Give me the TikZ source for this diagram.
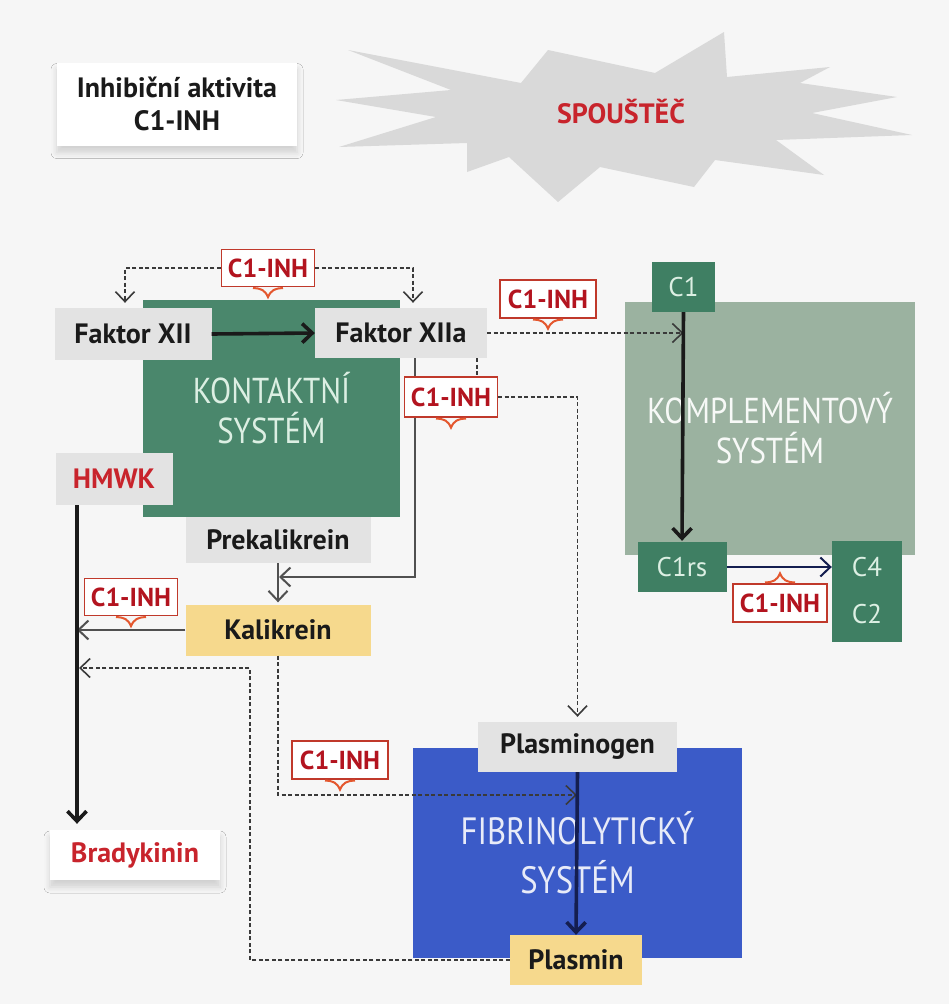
\documentclass[tikz,border=0pt]{standalone}
\usepackage{fontspec}
\setmainfont{PT Sans}
\newfontfamily\titlefont[FakeStretch=0.86]{PT Sans}
\usetikzlibrary{arrows.meta,shadows.blur}

\definecolor{pagebg}{HTML}{F6F6F6}
\definecolor{stargray}{HTML}{D9D9D9}
\definecolor{kontgreen}{HTML}{4A876C}
\definecolor{komplgreen}{HTML}{9BB2A0}
\definecolor{darkgreen}{HTML}{3F7F63}
\definecolor{fibblue}{HTML}{3B5BC8}
\definecolor{lblgray}{HTML}{E3E3E3}
\definecolor{kalyellow}{HTML}{F6D98D}
\definecolor{ink}{HTML}{1A1A1A}
\definecolor{redtext}{HTML}{C8242C}
\definecolor{inhred}{HTML}{C0392B}
\definecolor{inhtext}{HTML}{B3141F}
\definecolor{markred}{HTML}{E4572E}
\definecolor{dashgray}{HTML}{3A3A3A}
\definecolor{thingray}{HTML}{505050}
\definecolor{navy}{HTML}{141E50}
\definecolor{paletext}{HTML}{DCEFE3}

\pgfdeclarelayer{front}
\pgfsetlayers{main,front}

\begin{document}
\begin{tikzpicture}[x=1pt,y=-1pt,
  >={Straight Barb[length=10pt,width=19pt]},
  lbl/.style={fill=lblgray, text=ink, inner sep=0pt, minimum height=50pt,
    font=\fontsize{28}{30}\selectfont\bfseries},
  whitebox/.style={fill=white, inner sep=0pt,
    blur shadow={shadow xshift=0pt, shadow yshift=-7pt, shadow blur radius=6pt, shadow opacity=15}},
  bigbox/.style={inner sep=0pt, align=center},
  cbox/.style={fill=darkgreen, text=paletext, inner sep=0pt,
    font=\fontsize{27}{30}\selectfont},
  inhbox/.style={draw=inhred, line width=1.3pt, fill=white, text=inhtext,
    inner sep=0pt, minimum width=93pt, minimum height=37pt,
    font=\fontsize{26}{28}\selectfont\bfseries},
  dashline/.style={draw=dashgray, line width=1.6pt, dash pattern=on 4pt off 2.5pt},
  thickline/.style={draw=ink, line width=3.6pt},
  thinline/.style={draw=thingray, line width=2pt},
  inhmark/.pic={
    \draw[markred, line width=2pt]
      (-15,1) .. controls (-7,1) and (-3,3) .. (0,10)
      .. controls (3,3) and (7,1) .. (15,1);
  }]

\useasboundingbox (0,0) rectangle (949,1004);
\fill[pagebg] (0,0) rectangle (949,1004);

% trigger burst
\fill[stargray] (348,50) -- (451,90) -- (336,100) -- (436,117) -- (339,147)
  -- (467,143) -- (467,172) -- (509,157) -- (558,202) -- (600,167)
  -- (694,187) -- (715,160) -- (824,175) -- (776,140) -- (912,135)
  -- (812,113) -- (897,97) -- (800,83) -- (830,67) -- (727,77)
  -- (724,32) -- (655,73) -- (548,50) -- (521,83) -- cycle;
\node[text=redtext, font=\fontsize{28}{30}\selectfont\bfseries] (trig) at (621,112) {SPOUŠTĚČ};

% legend box
\node[whitebox, minimum width=240pt, minimum height=83pt, align=center,
  font=\fontsize{28}{33}\selectfont\bfseries, text=ink] (legend) at (177,104)
  {Inhibiční aktivita\\C1-INH};

% system blocks
\node[bigbox, fill=kontgreen, text=paletext, minimum width=257pt, minimum height=217pt,
  font=\titlefont\fontsize{36}{40}\selectfont] (kont) at (271.5,408.5) {KONTAKTNÍ\\SYSTÉM};
\node[bigbox, fill=komplgreen, text=white!92!komplgreen, minimum width=290pt, minimum height=253pt,
  font=\titlefont\fontsize{36}{40}\selectfont] (kompl) at (770,428.5) {KOMPLEMENTOVÝ\\SYSTÉM};
\node[bigbox, fill=fibblue, text=white!88!fibblue, minimum width=329pt, minimum height=210pt,
  font=\titlefont\fontsize{38}{49}\selectfont] (fib) at (577.5,853) {FIBRINOLYTICKÝ\\SYSTÉM};

% factors
\node[lbl, minimum width=157pt, minimum height=52pt] (fxii) at (133,334) {Faktor XII};
\node[lbl, minimum width=172pt] (fxiia) at (401,333) {Faktor XIIa};
\node[lbl, minimum width=117pt, minimum height=52pt, text=redtext] (hmwk) at (114,479) {HMWK};
\node[lbl, minimum width=185pt, minimum height=46pt] (prek) at (278,540) {Prekalikrein};
\node[lbl, fill=kalyellow, minimum width=185pt, minimum height=51pt] (kal) at (278,630) {Kalikrein};
\node[whitebox, minimum width=170pt, minimum height=50pt, text=redtext,
  font=\fontsize{28}{30}\selectfont\bfseries] (brady) at (135,855) {Bradykinin};
\node[lbl, minimum width=199pt] (plg) at (577.5,747) {Plasminogen};
\node[lbl, fill=kalyellow, minimum width=132pt] (plm) at (576,960) {Plasmin};

% complement components
\node[cbox, minimum width=63pt, minimum height=50pt] (c1) at (683.5,287) {C1};
\node[cbox, minimum width=89pt, minimum height=50pt] (c1rs) at (682,567) {C1rs};
\node[cbox, minimum width=70pt, minimum height=101pt, align=center,
  font=\fontsize{27}{47}\selectfont] (c4c2) at (867,591) {C4\\C2};

% inhibitor tags, kept above the connectors
\begin{pgfonlayer}{front}
  \node[inhbox] (inh1) at (268,268) {C1-INH};
  \pic at (inh1.south) {inhmark};
  \node[inhbox, minimum width=96pt, minimum height=38pt] (inh2) at (548,299) {C1-INH};
  \pic at (inh2.south) {inhmark};
  \node[inhbox, minimum height=40pt] (inh3) at (451,397) {C1-INH};
  \pic at (inh3.south) {inhmark};
  \node[inhbox] (inh4) at (131,597) {C1-INH};
  \pic at (inh4.south) {inhmark};
  \node[inhbox, minimum width=96pt, minimum height=38pt] (inh5) at (340,760) {C1-INH};
  \pic at (inh5.south) {inhmark};
  \node[inhbox, minimum width=94pt, minimum height=38pt] (inh6) at (780,603) {C1-INH};
  \pic[yscale=-1] at (inh6.north) {inhmark};
\end{pgfonlayer}

% junction points
\coordinate (hx) at ([xshift=-37pt]hmwk.south);
\coordinate (kjoin) at (279,577);
\coordinate (fj) at (577,795);
\coordinate (pb) at (250,668);

% contact system
\draw[dashline, ->, shorten >=5pt] (inh1.west) -| ([xshift=-8pt]fxii.north);
\draw[dashline, ->, shorten >=5pt] (inh1.east) -| ([xshift=12pt]fxiia.north);
\draw[thickline, ->] (fxii.east) -- (fxiia.west);
\draw[thinline, ->] ([xshift=14pt]fxiia.south) |- (kjoin);
\draw[thinline, ->, shorten >=2pt] (prek.south) -- (kal.north);
\draw[thinline, ->] (kal.west) -- (kal.west -| hx);
\draw[thickline, ->, shorten >=6pt] (hx) -- (hx |- brady.north);

% links to complement and fibrinolysis
\draw[dashline, ->] (fxiia.east) -- (fxiia.east -| c1.south);
\draw[dashline] ([xshift=76pt]fxiia.south) -- ++(0,19);
\draw[dashline, ->, shorten >=5pt] (inh3.east) -| (plg.north);
\draw[dashline, ->] (kal.south) |- (fj);
\draw[dashline, ->, shorten >=2pt] (plm.west) -| (pb) -- (pb -| hx);

% complement cascade
\draw[thickline, ->, shorten >=1pt] (c1.south) -- (c1rs.north);
\draw[draw=navy, line width=2pt, ->] (c1rs.east) -- (c1rs.east -| c4c2.west);

% fibrinolysis
\draw[draw=navy, line width=3.6pt, ->] (plg.south) -- (plm.north);

\end{tikzpicture}
\end{document}
